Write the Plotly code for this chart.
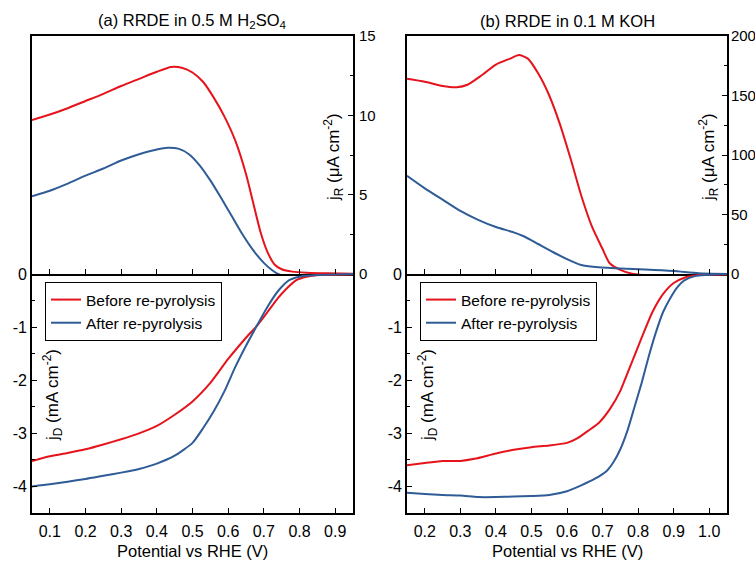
import plotly.graph_objects as go

# ---------------- (a) 0.5 M H2SO4 ----------------
# ring current jR (uA cm^-2)
a_ring_before_v = [0.05, 0.10, 0.15, 0.20, 0.25, 0.30, 0.35, 0.40, 0.44, 0.47, 0.50, 0.53, 0.56,
                   0.59, 0.62, 0.65, 0.67, 0.69, 0.71, 0.73, 0.75, 0.78, 0.82, 0.88, 0.95]
a_ring_before = [9.7, 10.05, 10.45, 10.9, 11.35, 11.85, 12.3, 12.75, 13.05, 13.0, 12.7, 12.1, 11.1,
                 9.9, 8.4, 6.3, 4.5, 2.7, 1.4, 0.6, 0.3, 0.15, 0.08, 0.04, 0.02]
a_ring_after_v = [0.05, 0.10, 0.15, 0.20, 0.25, 0.30, 0.35, 0.40, 0.43, 0.46, 0.49, 0.52, 0.55,
                  0.58, 0.61, 0.64, 0.67, 0.70, 0.72, 0.74, 0.77, 0.82, 0.88, 0.95]
a_ring_after = [4.9, 5.25, 5.7, 6.2, 6.65, 7.15, 7.55, 7.85, 7.96, 7.9, 7.55, 6.85, 5.9,
                4.8, 3.65, 2.5, 1.5, 0.7, 0.3, 0.0, -0.15, -0.1, -0.05, 0.0]
# disk current jD (mA cm^-2)
a_disk_before_v = [0.05, 0.10, 0.15, 0.20, 0.25, 0.30, 0.35, 0.40, 0.45, 0.50, 0.55, 0.60, 0.65,
                   0.68, 0.71, 0.74, 0.76, 0.79, 0.82, 0.86, 0.95]
a_disk_before = [-3.52, -3.43, -3.37, -3.30, -3.21, -3.11, -3.0, -2.86, -2.65, -2.40, -2.05, -1.6, -1.2,
                 -0.98, -0.72, -0.45, -0.3, -0.12, -0.05, -0.02, -0.01]
a_disk_after_v = [0.05, 0.10, 0.15, 0.20, 0.25, 0.30, 0.35, 0.40, 0.45, 0.50, 0.53, 0.56, 0.59,
                  0.62, 0.65, 0.68, 0.71, 0.74, 0.77, 0.80, 0.85, 0.95]
a_disk_after = [-4.0, -3.96, -3.91, -3.86, -3.80, -3.74, -3.67, -3.57, -3.42, -3.18, -2.9, -2.58, -2.2,
                -1.75, -1.35, -0.98, -0.62, -0.32, -0.12, -0.05, -0.02, 0.0]

# ---------------- (b) 0.1 M KOH ----------------
b_ring_before_v = [0.15, 0.20, 0.25, 0.29, 0.32, 0.36, 0.40, 0.44, 0.465, 0.49, 0.52, 0.55, 0.58,
                   0.61, 0.64, 0.67, 0.70, 0.72, 0.75, 0.78, 0.82, 0.88, 0.95, 1.05]
b_ring_before = [164, 161.5, 158, 157, 159, 167, 176, 181, 184, 181, 168, 150, 126,
                 97, 66, 40, 21, 9, 3.5, 0.5, -1, -1.5, -1, 0]
b_ring_after_v = [0.15, 0.20, 0.25, 0.30, 0.35, 0.40, 0.45, 0.48, 0.52, 0.56, 0.60, 0.64, 0.68,
                  0.75, 0.82, 0.90, 0.97, 1.05]
b_ring_after = [82.5, 72, 62.5, 53, 45.5, 39.5, 35, 31.5, 25, 18.5, 12.5, 7.5, 5.8,
                4.6, 3.8, 2.5, 0.6, 0]
b_disk_before_v = [0.15, 0.20, 0.25, 0.30, 0.34, 0.40, 0.45, 0.50, 0.55, 0.60, 0.63, 0.66, 0.69,
                   0.72, 0.75, 0.78, 0.81, 0.84, 0.87, 0.90, 0.93, 0.97, 1.05]
b_disk_before = [-3.6, -3.56, -3.52, -3.52, -3.48, -3.38, -3.31, -3.26, -3.23, -3.18, -3.09, -2.95, -2.8,
                 -2.55, -2.2, -1.7, -1.2, -0.72, -0.38, -0.17, -0.07, -0.02, -0.01]
b_disk_after_v = [0.15, 0.20, 0.25, 0.30, 0.35, 0.40, 0.45, 0.50, 0.55, 0.60, 0.64, 0.68, 0.71,
                  0.73, 0.75, 0.77, 0.79, 0.81, 0.83, 0.85, 0.87, 0.89, 0.91, 0.93, 0.96, 1.05]
b_disk_after = [-4.12, -4.14, -4.16, -4.17, -4.2, -4.2, -4.19, -4.18, -4.16, -4.09, -3.98, -3.85, -3.72,
                -3.55, -3.3, -2.95, -2.5, -2.05, -1.55, -1.1, -0.72, -0.46, -0.25, -0.12, -0.04, 0]

series_names = ["Before re-pyrolysis", "After re-pyrolysis"]
panel_titles = ["(a) RRDE in 0.5 M H<sub>2</sub>SO<sub>4</sub>", "(b) RRDE in 0.1 M KOH"]
x_title = "Potential vs RHE (V)"
ring_title = "j<sub>R</sub> (\u03bcA cm<sup>-2</sup>)"
disk_title = "j<sub>D</sub> (mA cm<sup>-2</sup>)"
disk_ticks = [0, -1, -2, -3, -4]
disk_ticktext = ["0", "-1", "-2", "-3", "-4"]

RED = "#E5141C"
BLUE = "#2F5C97"
FONT = "Arial, Liberation Sans, sans-serif"
W, H = 755, 562


def px_x(v):
    return v / W


def px_y(v):
    return 1 - v / H


fig = go.Figure()


def add_line(x, y, xa, ya, color, name, legend=None):
    fig.add_trace(go.Scatter(
        x=x, y=y, xaxis=xa, yaxis=ya, mode="lines", name=name,
        line=dict(color=color, width=2, shape="spline", smoothing=0.6),
        showlegend=legend is not None, legend=legend or "legend",
    ))


# panel (a)
add_line(a_ring_before_v, a_ring_before, "x", "y", RED, series_names[0])
add_line(a_ring_after_v, a_ring_after, "x", "y", BLUE, series_names[1])
add_line(a_disk_before_v, a_disk_before, "x2", "y2", RED, series_names[0], "legend")
add_line(a_disk_after_v, a_disk_after, "x2", "y2", BLUE, series_names[1], "legend")
# panel (b)
add_line(b_ring_before_v, b_ring_before, "x3", "y3", RED, series_names[0])
add_line(b_ring_after_v, b_ring_after, "x3", "y3", BLUE, series_names[1])
add_line(b_disk_before_v, b_disk_before, "x4", "y4", RED, series_names[0], "legend2")
add_line(b_disk_after_v, b_disk_after, "x4", "y4", BLUE, series_names[1], "legend2")

top_dom = [px_y(274), px_y(36)]
bot_dom = [px_y(513), px_y(274)]
a_dom = [px_x(32), px_x(353)]
b_dom = [px_x(407), px_x(727)]

axis_common = dict(showline=True, linecolor="black", linewidth=1.8, mirror=True, automargin=False,
                   showgrid=False, zeroline=False, ticks="inside", tickcolor="black",
                   ticklen=5, tickwidth=1.3,
                   tickfont=dict(family=FONT, size=16, color="black"))
minor_common = dict(ticks="inside", ticklen=3, tickcolor="black", tickwidth=1.3, showgrid=False)
right_font = dict(family=FONT, size=15, color="black")

fig.update_layout(
    width=W, height=H, margin=dict(l=0, r=0, t=0, b=0, autoexpand=False),
    paper_bgcolor="white", plot_bgcolor="white",
    font=dict(family=FONT, color="black"),
    # ring-current frames: the bottom x line doubles as the shared divider
    xaxis=dict(axis_common, domain=a_dom, anchor="y", range=[0.05, 0.95], tick0=0.1, dtick=0.1,
               showticklabels=False),
    yaxis=dict(axis_common, domain=top_dom, anchor="x", side="right", range=[0, 15], dtick=5,
               minor=dict(minor_common, dtick=2.5), ticklabelstandoff=1, tickfont=right_font),
    xaxis2=dict(axis_common, domain=a_dom, anchor="y2", range=[0.05, 0.95], tick0=0.1, dtick=0.1,
                tickformat=".1f", ticklabelstandoff=3, mirror=False),
    yaxis2=dict(axis_common, domain=bot_dom, anchor="x2", range=[-4.5, 0],
                tickvals=disk_ticks, ticktext=disk_ticktext,
                minor=dict(minor_common, dtick=0.5)),
    xaxis3=dict(axis_common, domain=b_dom, anchor="y3", range=[0.15, 1.05], tick0=0.2, dtick=0.1,
                showticklabels=False),
    yaxis3=dict(axis_common, domain=top_dom, anchor="x3", side="right", range=[0, 200], dtick=50,
                minor=dict(minor_common, dtick=25), ticklabelstandoff=-1, tickfont=right_font),
    xaxis4=dict(axis_common, domain=b_dom, anchor="y4", range=[0.15, 1.05], tick0=0.2, dtick=0.1,
                tickformat=".1f", ticklabelstandoff=3, mirror=False),
    yaxis4=dict(axis_common, domain=bot_dom, anchor="x4", range=[-4.5, 0],
                tickvals=disk_ticks, ticktext=disk_ticktext,
                minor=dict(minor_common, dtick=0.5)),
    legend=dict(x=px_x(45), y=px_y(282), xanchor="left", yanchor="top",
                bordercolor="black", borderwidth=1, bgcolor="white",
                font=dict(family=FONT, size=15.5, color="black"), tracegroupgap=0),
    legend2=dict(x=px_x(420), y=px_y(282), xanchor="left", yanchor="top",
                 bordercolor="black", borderwidth=1, bgcolor="white",
                 font=dict(family=FONT, size=15.5, color="black"), tracegroupgap=0),
)


def label(xc, yc, text, size, angle=0):
    fig.add_annotation(x=px_x(xc), y=px_y(yc), xref="paper", yref="paper", text=text,
                       textangle=angle, xanchor="center", yanchor="middle", showarrow=False,
                       font=dict(family=FONT, size=size, color="black"))


# panel titles and x-axis titles
for xc, title in ((192, panel_titles[0]), (567, panel_titles[1])):
    label(xc, 21, title, 16.5)
    label(xc, 551, x_title, 16.5)
# y-axis titles drawn inside the frames
for xc in (333, 708):
    label(xc, 157, ring_title, 17, -90)
for xc in (52, 427):
    label(xc, 395, disk_title, 17, -90)

fig.write_html("out.html")
